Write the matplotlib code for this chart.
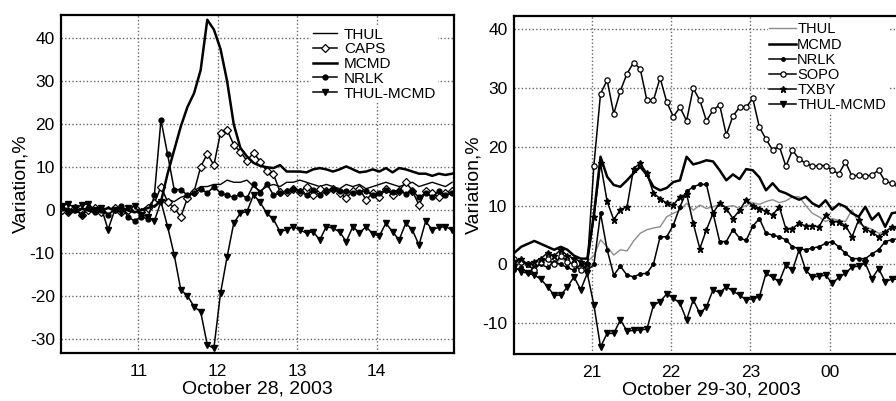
import numpy as np
import matplotlib
matplotlib.use("Agg")
import matplotlib.pyplot as plt

plt.rcParams['font.family'] = ['Liberation Sans', 'DejaVu Sans']
plt.rcParams['axes.unicode_minus'] = False

# 5-minute samples, 60 per panel
t_left = 10.035 + np.arange(60) / 12.0
t_right = 20.03 + np.arange(60) / 12.0

# left panel: October 28, 2003
thul_l = [0.3, 0.5, -0.3, 0.5, 0.2, -0.5, 0.3, -0.2, 0.5, 0.0, -0.3, 0.5,
          0.0, 1.0, 2.0, 2.0, 2.5, 2.0, 3.0, 3.5, 4.5, 5.5, 5.5, 6.0,
          6.0, 7.0, 6.5, 6.5, 7.0, 5.5, 4.5, 5.5, 6.0, 5.5, 6.5, 6.5,
          7.0, 6.5, 6.0, 5.5, 6.0, 5.5, 5.0, 6.0, 5.5, 6.0, 5.0, 5.5,
          6.0, 6.5, 6.0, 5.5, 6.0, 6.5, 5.5, 6.0, 6.5, 6.0, 5.5, 6.5]
caps_l = [0.0, -0.5, 0.5, -1.0, 0.0, 0.5, -0.5, 0.0, 0.5, -0.5, 0.0, 0.5,
          -0.5, 0.5, 1.6, 5.5, 2.0, 0.5, -1.5, 2.8, 4.3, 10.1, 13.1, 10.5,
          18.0, 18.7, 15.2, 13.6, 11.5, 13.4, 11.3, 9.1, 8.4, 4.3, 4.3, 5.0,
          4.3, 5.5, 3.5, 5.0, 4.5, 5.0, 4.0, 2.8, 4.5, 5.0, 2.4, 4.0,
          3.0, 5.0, 3.5, 4.5, 6.6, 4.5, 1.2, 4.5, 4.0, 3.0, 4.0, 4.5]
mcmd_l = [0.5, 0.0, -0.5, 0.3, 0.0, -0.5, 0.0, 0.5, 0.0, 0.5, 0.0, -0.5,
          0.0, 0.5, 1.0, 2.0, 8.5, 14.0, 19.5, 24.0, 27.2, 32.6, 44.3, 42.0,
          37.5, 30.0, 20.0, 14.5, 12.5, 11.0, 10.3, 10.0, 9.8, 10.5, 9.0, 9.0,
          9.0, 8.8, 9.5, 9.8, 9.5, 9.0, 9.5, 10.2, 9.5, 8.8, 9.0, 9.5,
          9.0, 9.8, 8.8, 9.8, 9.5, 9.0, 8.5, 8.5, 8.0, 8.5, 8.2, 8.5]
nrlk_l = [0.5, -0.5, 0.0, -1.0, 0.5, -0.5, 0.0, -1.0, 0.0, 1.0, -1.5, -2.5,
          -1.5, -2.0, 3.5, 21.0, 13.0, 4.8, 4.8, 3.5, 4.0, 5.0, 4.0, 5.5,
          4.0, 3.5, 3.0, 3.8, 2.8, 6.0, 4.0, 6.2, 3.5, 4.0, 4.5, 5.0,
          4.5, 3.5, 4.8, 3.5, 4.5, 5.0, 4.5, 4.5, 4.0, 4.2, 4.5, 3.5,
          4.0, 4.8, 4.2, 4.5, 3.8, 4.5, 3.0, 4.0, 3.0, 4.5, 3.5, 4.0]
diff_l = [1.0, 1.5, 0.5, 1.2, 1.5, 0.0, 0.5, -4.5, 0.0, -0.5, 0.5, 1.0,
          -1.0, -1.5, -2.5, 2.0, -3.8, -10.4, -18.5, -19.9, -22.4, -23.6, -31.3, -32.1,
          -19.3, -10.8, -3.0, -0.7, -0.3, 3.6, 1.8, -0.7, -2.1, -5.0, -4.5, -3.8,
          -4.6, -5.3, -5.0, -6.9, -3.8, -4.2, -5.0, -7.3, -3.8, -5.3, -3.8, -5.5,
          -6.0, -3.0, -5.0, -6.9, -3.0, -4.6, -8.1, -2.6, -4.5, -4.0, -3.8, -4.6]

# right panel: October 29-30, 2003
thul_r = [0.0, 0.5, -0.5, 0.5, 1.0, 0.5, 0.0, 1.0, 0.5, 0.0, -0.5, 0.5,
          1.5, 4.2, 3.0, 1.6, 2.5, 2.3, 4.0, 5.3, 5.9, 6.2, 6.4, 8.1,
          8.7, 9.2, 10.4, 9.2, 10.1, 9.5, 9.8, 10.2, 9.8, 10.0, 9.5, 10.0,
          10.5, 10.2, 10.7, 11.0, 10.5, 10.8, 11.5, 11.5, 10.0, 8.7, 8.1, 7.3,
          7.8, 7.5, 7.3, 9.3, 7.0, 6.4, 6.0, 5.3, 5.5, 6.4, 6.0, 6.0]
mcmd_r = [2.0, 3.0, 3.5, 4.0, 3.5, 3.0, 2.5, 3.0, 2.5, 1.5, 1.0, 1.0,
          8.5, 18.3, 14.9, 13.5, 13.2, 14.3, 15.5, 16.6, 15.2, 13.2, 12.6, 13.0,
          14.0, 14.3, 18.3, 17.0, 17.3, 17.7, 17.5, 16.0, 14.3, 15.3, 14.5, 16.2,
          16.0, 14.8, 12.6, 13.8, 12.5, 12.1, 11.5, 11.0, 11.5, 10.4, 9.8, 10.9,
          9.3, 10.3, 9.8, 8.7, 8.1, 9.8, 7.6, 8.7, 6.4, 8.7, 8.9, 8.5]
nrlk_r = [-1.0, -0.5, -1.5, -0.5, 0.0, -0.5, 0.5, 0.0, -0.5, -1.0, 0.0, -1.0,
          0.0, 8.7, 2.5, -1.8, -0.3, -1.8, -2.1, -1.6, -1.5, 0.1, 4.7, 4.7,
          6.7, 9.8, 12.4, 13.2, 13.6, 13.6, 8.7, 3.9, 3.9, 5.9, 4.5, 4.1,
          6.5, 7.8, 5.3, 5.0, 4.7, 4.2, 3.0, 2.7, 2.5, 2.8, 3.0, 3.6,
          3.9, 3.0, 1.9, 1.0, 1.0, 1.0, 1.8, 2.5, 3.9, 4.2, 4.4, 4.4]
sopo_r = [1.0, 0.5, 0.0, -1.0, 0.5, 1.0, 0.0, 1.5, 0.5, 0.0, -1.0, 0.0,
          16.8, 29.0, 31.3, 25.6, 29.5, 32.4, 34.3, 33.2, 27.9, 27.9, 31.7, 27.6,
          25.1, 26.7, 24.4, 29.9, 27.9, 24.4, 26.2, 27.1, 22.0, 25.2, 26.7, 26.7,
          28.2, 23.3, 21.3, 19.4, 20.1, 16.7, 19.4, 17.9, 17.2, 16.7, 16.8, 16.8,
          16.0, 15.4, 17.4, 15.0, 15.2, 15.0, 15.2, 16.0, 14.1, 13.8, 13.5, 13.5]
txby_r = [0.5, 1.0, 0.0, 0.5, 1.0, 2.0, 1.5, 2.5, 1.5, 1.0, 0.5, 0.0,
          8.0, 17.2, 10.7, 7.6, 9.3, 9.8, 16.3, 17.2, 15.5, 12.1, 11.2, 10.4,
          10.1, 11.5, 12.0, 7.0, 2.7, 5.9, 8.7, 10.5, 9.5, 7.8, 9.2, 11.0,
          10.0, 9.5, 9.0, 8.4, 9.8, 6.1, 6.1, 7.0, 6.5, 6.6, 6.4, 8.4,
          7.3, 7.3, 6.6, 4.7, 7.6, 6.0, 5.5, 4.7, 5.5, 6.4, 6.0, 6.0]
diff_r = [-0.4, -1.2, -1.5, -1.8, -2.5, -3.8, -5.2, -5.2, -3.8, -2.1, -4.3, -1.5,
          -6.9, -14.0, -11.7, -11.7, -9.4, -11.3, -11.2, -11.1, -11.0, -6.9, -6.3, -5.0,
          -5.7, -6.6, -9.4, -6.0, -8.3, -7.2, -4.3, -4.8, -3.8, -4.5, -5.2, -6.0,
          -5.8, -5.5, -1.5, -2.2, -2.9, -0.1, -1.0, 2.5, -1.0, -2.1, -2.0, -1.8,
          -3.2, -2.2, -1.5, -0.4, -0.3, 0.2, -2.4, -0.7, -2.9, -2.5, -2.5, -2.5]

left_ticks = [11, 12, 13, 14]
right_ticks = [21, 22, 23, 24]
right_ticklabels = ['21', '22', '23', '00']


def style_axes(ax):
    ax.grid(True, color='0.4', linestyle=(0, (1, 1.6)), linewidth=1.0)
    ax.set_axisbelow(True)
    for sp in ax.spines.values():
        sp.set_linewidth(1.6)
        sp.set_color('black')
    ax.tick_params(length=0, labelsize=12.5)
    ax.tick_params(axis='x', pad=8)
    ax.tick_params(axis='y', pad=4.5)


fig = plt.figure(figsize=(8.96, 4.01), dpi=100)

# left panel
ax1 = fig.add_axes([0.0681, 0.1197, 0.4386, 0.8429])
ax1.plot(t_left, thul_l, color='black', lw=1.0, label='THUL')
ax1.plot(t_left, caps_l, color='black', lw=1.1, marker='D', ms=3.6,
         mfc='white', mec='black', mew=0.9, label='CAPS')
ax1.plot(t_left, mcmd_l, color='black', lw=1.8, label='MCMD')
ax1.plot(t_left, nrlk_l, color='black', lw=1.1, marker='o', ms=3.5, label='NRLK')
ax1.plot(t_left, diff_l, color='black', lw=1.1, marker='v', ms=4.5, label='THUL-MCMD')
ax1.set_xlim(10.026, 14.976)
ax1.set_ylim(-33.2, 45.4)
ax1.set_xticks(left_ticks)
ax1.set_yticks([-30, -20, -10, 0, 10, 20, 30, 40])
style_axes(ax1)
ax1.set_xlabel('October 28, 2003', fontsize=14, labelpad=1)
ax1.set_ylabel('Variation,%', fontsize=14, labelpad=0.5)
leg1 = ax1.legend(loc='upper left', bbox_to_anchor=(311 / 896, 1 - 26 / 401),
                  bbox_transform=fig.transFigure, fontsize=11, frameon=True,
                  facecolor='white', edgecolor='none', framealpha=1, fancybox=False,
                  borderpad=0.1, handlelength=1.6, handletextpad=0.45,
                  labelspacing=0.05, numpoints=1, borderaxespad=0)

# right panel
ax2 = fig.add_axes([0.5733, 0.1172, 0.4415, 0.8429])
ax2.plot(t_right, thul_r, color='0.55', lw=1.0, label='THUL')
ax2.plot(t_right, mcmd_r, color='black', lw=1.8, label='MCMD')
ax2.plot(t_right, nrlk_r, color='black', lw=1.1, marker='o', ms=2.5, label='NRLK')
ax2.plot(t_right, sopo_r, color='black', lw=1.1, marker='o', ms=3.8,
         mfc='white', mec='black', mew=0.9, label='SOPO')
ax2.plot(t_right, txby_r, color='black', lw=1.1, marker='*', ms=5, label='TXBY')
ax2.plot(t_right, diff_r, color='black', lw=1.1, marker='v', ms=4.5, label='THUL-MCMD')
ax2.set_xlim(20.02, 25.0)
ax2.set_ylim(-15.2, 42.2)
ax2.set_xticks(right_ticks)
ax2.set_xticklabels(right_ticklabels)
ax2.set_yticks([-10, 0, 10, 20, 30, 40])
style_axes(ax2)
ax2.set_xlabel('October 29-30, 2003', fontsize=14, labelpad=1)
ax2.set_ylabel('Variation,%', fontsize=14, labelpad=0)
leg2 = ax2.legend(loc='upper left', bbox_to_anchor=(768 / 896, 1 - 21 / 401),
                  bbox_transform=fig.transFigure, fontsize=10.5, frameon=True,
                  facecolor='white', edgecolor='none', framealpha=1, fancybox=False,
                  borderpad=0.1, handlelength=1.8, handletextpad=0.1,
                  labelspacing=0.08, numpoints=1, borderaxespad=0)

fig.savefig('out.png', dpi=100)
